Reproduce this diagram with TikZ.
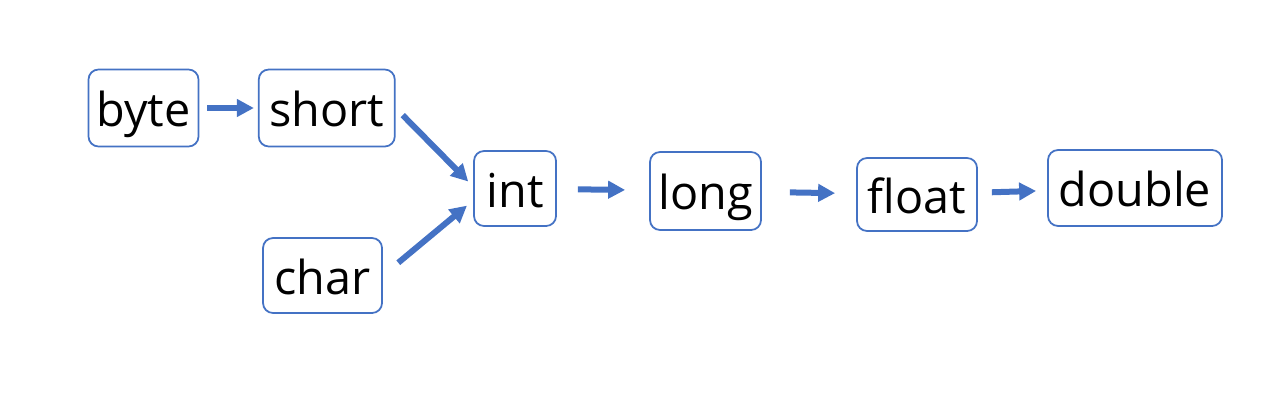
\documentclass[tikz,border=0pt]{standalone}
\usepackage{fontspec}
\setmainfont{Open Sans}
\usepackage{tikz}
\usetikzlibrary{arrows.meta, positioning}
\definecolor{boxblue}{RGB}{68, 114, 196}

\begin{document}
\begin{tikzpicture}[
    typebox/.style={rectangle, draw=boxblue, line width=0.5pt, fill=white, rounded corners=0.1cm, inner sep=0pt, minimum height=0.77cm, text height=0.5cm, text depth=0.13cm, font=\fontsize{13.3}{15}\selectfont},
    arrow/.style={-{Triangle[length=0.17cm, width=0.17cm]}, line width=0.06cm, boxblue}
]
    \useasboundingbox (0,0) rectangle (12.8,4.01);
    % Nodes
    \node[typebox, minimum width=1.10cm] (byte) at (1.435,2.93) {byte};
    \node[typebox, minimum width=1.36cm, right=0.585cm of byte] (short) {short};
    \node[typebox, minimum width=1.19cm, minimum height=0.75cm] (char) at (3.225,1.255) {char};
    \node[typebox, minimum width=0.82cm, minimum height=0.75cm] (int) at (5.15,2.125) {int};
    \node[typebox, minimum width=1.11cm, minimum height=0.78cm] (long) at (7.055,2.10) {long};
    \node[typebox, minimum width=1.20cm, minimum height=0.73cm] (float) at (9.17,2.065) {float};
    \node[typebox, minimum width=1.74cm, minimum height=0.76cm] (double) at (11.35,2.13) {double};

    % Paths
    \draw[arrow, shorten <=0.08cm, shorten >=0.04cm] (byte) -- (short);
    \draw[arrow, shorten <=0.1cm, shorten >=0.07cm] (short.east) -- ([yshift=0.02cm]int.west);
    \draw[arrow, shorten <=0.2cm, shorten >=0.08cm] (char.east) -- ([yshift=-0.12cm]int.west);
    \draw[arrow, shorten <=0.21cm, shorten >=0.24cm] (int) -- (long);
    \draw[arrow, shorten <=0.28cm, shorten >=0.21cm] (long) -- (float);
    \draw[arrow, shorten <=0.14cm, shorten >=0.11cm] (float) -- (double);
\end{tikzpicture}
\end{document}
